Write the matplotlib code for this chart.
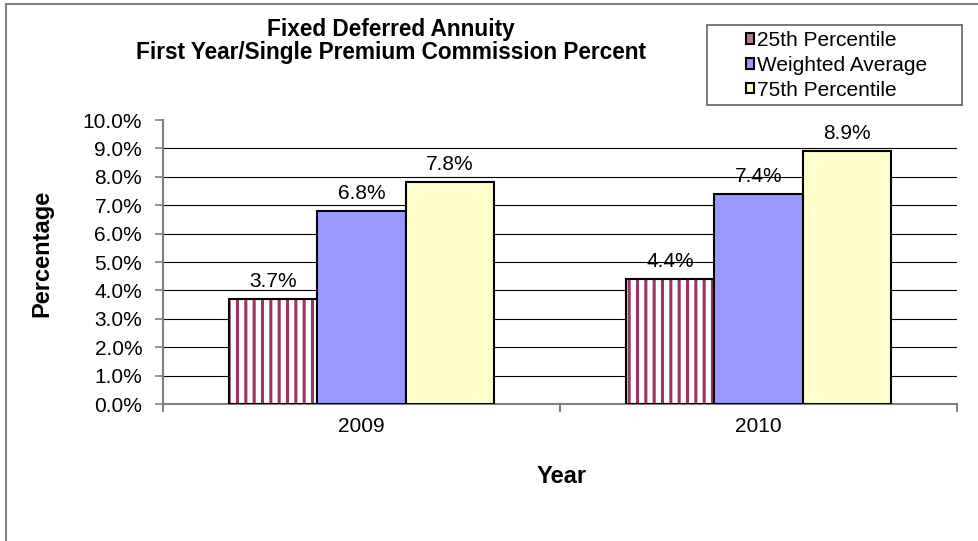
import numpy as np
import matplotlib.pyplot as plt
from matplotlib.patches import Rectangle, Patch
from matplotlib.ticker import FuncFormatter, FixedLocator

plt.rcParams['font.family'] = ['Liberation Sans', 'DejaVu Sans']
plt.rcParams['hatch.linewidth'] = 2.2

years = ['2009', '2010']
series_names = ['25th Percentile', 'Weighted Average', '75th Percentile']
p25 = [3.7, 4.4]
wavg = [6.8, 7.4]
p75 = [7.8, 8.9]

W, H = 979, 541
fig = plt.figure(figsize=(W / 100, H / 100), dpi=100)
ax = fig.add_axes([163/W, 1 - 404/H, (957-163)/W, (404-120)/H])

# outer chart border (only left and top edges are visible)
fig.patches.append(Rectangle((6/W, -0.1), 1.2, (H-4)/H + 0.1, transform=fig.transFigure,
                             fill=False, edgecolor='#808080', linewidth=1.5))

x = np.arange(len(years))
w = 0.222

# gridlines
for g in range(1, 10):
    ax.axhline(g, color='black', linewidth=0.8, zorder=0)

# 25th percentile: hatch first, then black edge
ax.bar(x - w, p25, w, color='white', edgecolor='#993366', hatch='||', linewidth=0, zorder=2)
ax.bar(x - w, p25, w, color='none', edgecolor='black', linewidth=1.5, zorder=3)
ax.bar(x, wavg, w, color='#9999FF', edgecolor='black', linewidth=1.5, zorder=3)
ax.bar(x + w, p75, w, color='#FFFFCC', edgecolor='black', linewidth=1.5, zorder=3)

for vals, off in [(p25, -w), (wavg, 0), (p75, w)]:
    for xi, v in zip(x, vals):
        ax.annotate(f'{v:.1f}%', (xi + off, v), xytext=(0, 6), textcoords='offset points',
                    ha='center', va='bottom', fontsize=15)

ax.set_xlim(-0.5, 1.5)
ax.set_ylim(0, 10)
ax.set_yticks(np.arange(0, 11, 1))
ax.yaxis.set_major_formatter(FuncFormatter(lambda v, p: f'{v:.1f}%'))
ax.set_xticks(x)
ax.set_xticklabels(years)
ax.xaxis.set_minor_locator(FixedLocator([-0.5, 0.5, 1.5]))
ax.tick_params(axis='x', which='major', length=0, labelsize=15, pad=9)
ax.tick_params(axis='x', which='minor', length=6, color='#808080', width=1.5, direction='out')
ax.tick_params(axis='y', length=6, color='#808080', width=1.2, labelsize=15, pad=9)

for s in ['top', 'right']:
    ax.spines[s].set_visible(False)
for s in ['left', 'bottom']:
    ax.spines[s].set_color('#808080')
    ax.spines[s].set_linewidth(1.5)

fig.text(562/W, 1 - 483/H, 'Year', ha='center', va='baseline',
         fontsize=17, fontweight='bold')
fig.text(42/W, 1 - 253/H, 'Percentage', rotation=90, ha='center', va='center',
         fontsize=17, fontweight='bold')

fig.text(391/W, 1 - 36/H, 'Fixed Deferred Annuity', ha='center', va='baseline',
         fontsize=16.3, fontweight='bold')
fig.text(391/W, 1 - 59/H, 'First Year/Single Premium Commission Percent', ha='center',
         va='baseline', fontsize=16.3, fontweight='bold')

# legend box
fig.patches.append(Rectangle((707/W, 1 - 105/H), (962-707)/W, 80/H, transform=fig.transFigure,
                             fill=False, edgecolor='#606060', linewidth=1.2))
handles = [Patch(facecolor='#B8789A', edgecolor='black', linewidth=1.5),
           Patch(facecolor='#9999FF', edgecolor='black', linewidth=1.5),
           Patch(facecolor='#FFFFCC', edgecolor='black', linewidth=1.5)]
leg = fig.legend(handles, series_names, loc='upper left',
                 bbox_to_anchor=(746/W, 1 - 31/H), fontsize=15, frameon=False,
                 handlelength=0.4, handleheight=0.4, handletextpad=0.15,
                 borderpad=0, labelspacing=0.28, borderaxespad=0)

fig.savefig('out.png', dpi=100)
